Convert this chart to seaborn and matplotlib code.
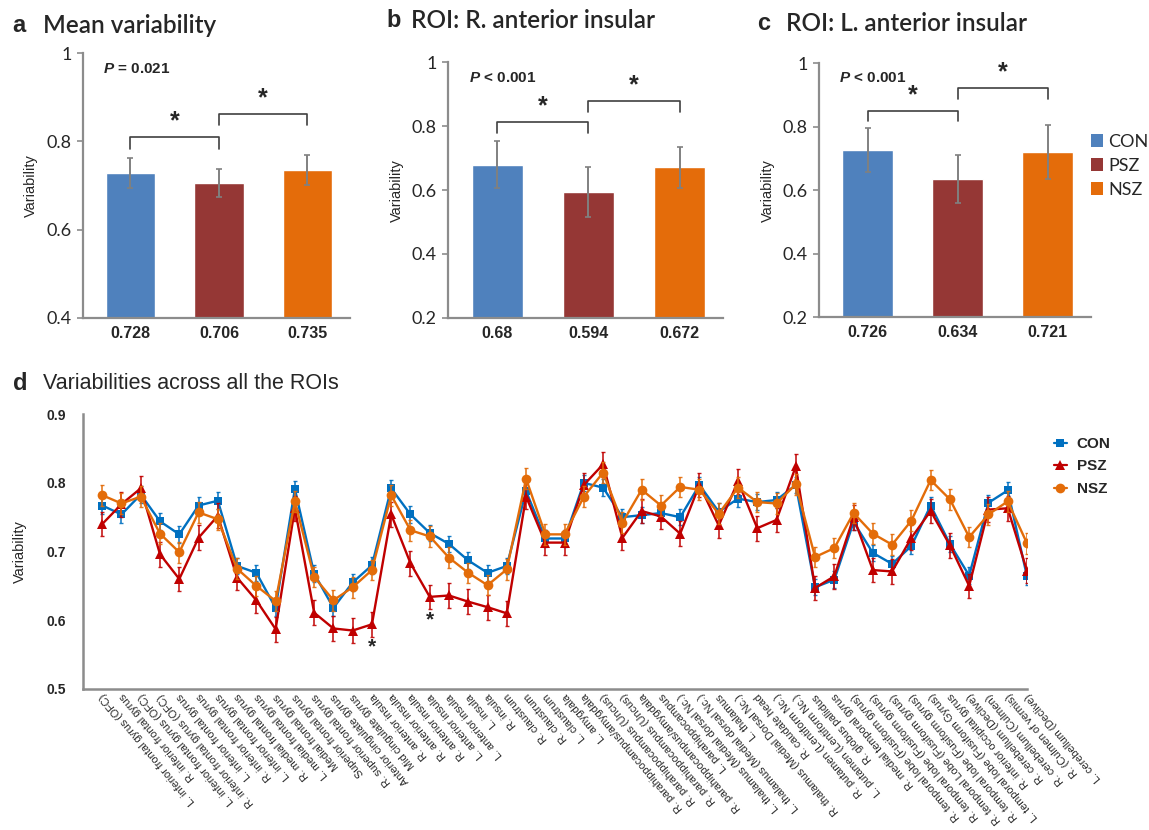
import numpy as np
import pandas as pd
import matplotlib
matplotlib.use("Agg")
import matplotlib.pyplot as plt
from matplotlib.lines import Line2D
from matplotlib.patches import Patch
import seaborn as sns

sns.set_theme(style="white")
plt.rcParams["font.family"] = ["Liberation Sans", "DejaVu Sans"]
plt.rcParams["mathtext.fontset"] = "custom"
plt.rcParams["mathtext.it"] = "Liberation Sans:italic:bold"

groups = ["CON", "PSZ", "NSZ"]
bar_colors = ["#4F81BD", "#953735", "#E46C0A"]
line_colors = ["#0070C0", "#C00000", "#E36C09"]
markers = ["s", "^", "o"]

# panels a-c: group means and error bars
mean_var = [0.728, 0.706, 0.735]
mean_var_err = [0.034, 0.032, 0.033]
r_ins = [0.68, 0.594, 0.672]
r_ins_err = [0.073, 0.078, 0.064]
l_ins = [0.726, 0.634, 0.721]
l_ins_err = [0.068, 0.076, 0.085]

# bracket heights (CON-PSZ, PSZ-NSZ)
brackets_a = [0.809, 0.862]
brackets_b = [0.8125, 0.878]
brackets_c = [0.85, 0.92]

# panel d
roi_labels = [
    "L. inferior frontal gyrus (OFC)", "R. inferior frontal gyrus",
    "L. inferior frontal gyrus (OFC)", "R. inferior frontal gyrus (OFC)",
    "L. inferior frontal gyrus", "R. inferior frontal gyrus",
    "L. inferior frontal gyrus", "R. medial frontal gyrus",
    "L. medial frontal gyrus", "Medial frontal gyrus",
    "Superior frontal gyrus", "R. superior frontal gyrus",
    "Anterior cingulate gyrus", "Mid cingulate gyrus",
    "R. anterior insula", "R. anterior insula", "R. anterior insula",
    "L. anterior insula", "L. anterior insula", "L. insula", "R. insula",
    "R. claustrum", "R. claustrum", "L. claustrum", "L. amygdala",
    "R. parahippocampus/amygdala", "R. parahippocampus (Uncus)",
    "R. parahippocampus (Uncus)", "R. parahippocampus/amygdala",
    "L. parahippocampus", "L. thalamus (Medial dorsal Nc.)",
    "L. thalamus (Medial dorsal Nc.)", "L. thalamus",
    "R. thalamus (Medial Dorsal Nc.)", "R. caudate head",
    "R. putamen (Lentiform Nc.)", "L. putamen (Lentiform Nc.)",
    "R. globus pallidus", "R. medial temporal gyrus",
    "R. temporal lobe (Fusiform gyrus)", "R. temporal lobe (Fusiform gyrus)",
    "R. temporal Lobe (Fusiform gyrus)", "R. temporal lobe (Fusiform gyrus)",
    "L. temporal lobe (Fusiform Gyrus)", "R. inferior occipital gyrus",
    "R. cerebellum (Declive)", "R. cerebellum (Culmen)",
    "R. (Culmen of vermis)", "L. cerebellum (Declive)",
]
con_vals = [0.767, 0.754, 0.783, 0.744, 0.725, 0.767, 0.774, 0.679, 0.669, 0.618,
            0.791, 0.668, 0.618, 0.655, 0.680, 0.792, 0.754, 0.727, 0.711, 0.687,
            0.669, 0.679, 0.788, 0.719, 0.719, 0.800, 0.793, 0.750, 0.753, 0.756,
            0.750, 0.797, 0.758, 0.777, 0.772, 0.775, 0.797, 0.648, 0.659, 0.743,
            0.698, 0.682, 0.708, 0.767, 0.711, 0.665, 0.771, 0.789, 0.664]
psz_vals = [0.740, 0.769, 0.792, 0.696, 0.660, 0.720, 0.752, 0.662, 0.629, 0.587,
            0.763, 0.611, 0.588, 0.585, 0.594, 0.754, 0.683, 0.634, 0.636, 0.627,
            0.619, 0.610, 0.780, 0.713, 0.713, 0.797, 0.827, 0.720, 0.759, 0.751,
            0.726, 0.797, 0.738, 0.802, 0.734, 0.746, 0.824, 0.647, 0.664, 0.750,
            0.673, 0.671, 0.720, 0.759, 0.709, 0.650, 0.761, 0.763, 0.672]
nsz_vals = [0.782, 0.770, 0.780, 0.726, 0.699, 0.757, 0.747, 0.675, 0.650, 0.628,
            0.773, 0.663, 0.629, 0.648, 0.673, 0.782, 0.731, 0.722, 0.691, 0.669,
            0.651, 0.674, 0.806, 0.725, 0.725, 0.780, 0.815, 0.742, 0.790, 0.767,
            0.794, 0.790, 0.755, 0.793, 0.772, 0.770, 0.798, 0.692, 0.705, 0.756,
            0.726, 0.710, 0.745, 0.804, 0.776, 0.721, 0.754, 0.773, 0.712]
series_se = [0.012, 0.018, 0.015]
star_rois = [14, 17]

fig = plt.figure(figsize=(11.49, 8.30), dpi=100)

axis_gray = "#8c8c8c"


def bar_panel(ax, vals, errs, ylim, yticks, ptxt, brk):
    df = pd.DataFrame({"group": groups, "val": vals})
    sns.barplot(data=df, x="group", y="val", hue="group", palette=bar_colors,
                width=0.56, saturation=1, legend=False, ax=ax)
    ax.errorbar(range(3), vals, yerr=errs, fmt="none", ecolor="#808080",
                elinewidth=1.4, capsize=2.5, capthick=1.2)
    ax.set_ylim(*ylim)
    ax.set_xlim(-0.54, 2.48)
    ax.set_yticks(yticks)
    ax.set_yticklabels([f"{t:g}" for t in yticks], family="Lato", fontsize=13)
    ax.set_xticks(range(3))
    ax.set_xticklabels([f"{v:g}" for v in vals], fontweight="bold", fontsize=11.5)
    ax.tick_params(axis="x", length=0, pad=6)
    ax.tick_params(axis="y", length=4, width=1.2, color=axis_gray, direction="out", pad=4, left=True)
    ax.set_xlabel("")
    ax.set_ylabel("Variability", fontsize=10.5, labelpad=6)
    for s in ["top", "right"]:
        ax.spines[s].set_visible(False)
    for s in ["left", "bottom"]:
        ax.spines[s].set_color(axis_gray)
        ax.spines[s].set_linewidth(1.6)
    ax.text(0.075, 0.94, ptxt, transform=ax.transAxes, fontsize=11,
            fontweight="bold", va="center")
    leg = 0.026 if ylim[0] > 0.3 else 0.033
    for i, h in enumerate(brk):
        x0, x1 = i, i + 1
        ax.plot([x0, x0, x1, x1], [h - leg, h, h, h - leg], color="#404040", lw=1.2)
        ax.text(i + 0.5, h + leg * 0.35, "*", ha="center", va="bottom",
                fontsize=18, fontweight="bold")


ax_a = fig.add_axes([0.072, 0.617, 0.2325, 0.319])
bar_panel(ax_a, mean_var, mean_var_err, (0.4, 1.0), [0.4, 0.6, 0.8, 1.0],
          "$\\it{P}$ = 0.021", brackets_a)
ax_b = fig.add_axes([0.390, 0.617, 0.2395, 0.308])
bar_panel(ax_b, r_ins, r_ins_err, (0.2, 1.0), [0.2, 0.4, 0.6, 0.8, 1.0],
          "$\\it{P}$ < 0.001", brackets_b)
ax_c = fig.add_axes([0.7128, 0.618, 0.2365, 0.306])
bar_panel(ax_c, l_ins, l_ins_err, (0.2, 1.0), [0.2, 0.4, 0.6, 0.8, 1.0],
          "$\\it{P}$ < 0.001", brackets_c)

bar_handles = [Patch(facecolor=c, edgecolor="none") for c in bar_colors]
fig.legend(bar_handles, groups, loc="center left", bbox_to_anchor=(0.935, 0.80),
           frameon=False, prop={"family": "Lato", "size": 13},
           handlelength=0.7, handleheight=0.7, handletextpad=0.3, labelspacing=0.45)

titles = [("a", "Mean variability", 0.011, 0.037, 0.969),
          ("b", "ROI: R. anterior insular", 0.336, 0.358, 0.975),
          ("c", "ROI: L. anterior insular", 0.659, 0.684, 0.972)]
for letter, title, lx, tx, ty in titles:
    fig.text(lx, ty, letter, fontsize=17, fontweight="bold", va="center")
    fig.text(tx, ty, title, fontsize=17.5, family="Lato", fontweight="semibold", va="center")

# panel d
ax_d = fig.add_axes([0.0722, 0.170, 0.8216, 0.331])
xs = np.arange(len(roi_labels))
all_vals = [con_vals, psz_vals, nsz_vals]
msizes = [5.5, 7, 7]
for g, vals, col, mk, ms, se in zip(groups, all_vals, line_colors, markers, msizes, series_se):
    ax_d.errorbar(xs, vals, yerr=se, fmt="none", ecolor=col, elinewidth=1.2,
                  capsize=1.5, capthick=1, alpha=0.9)
    sns.lineplot(x=xs, y=vals, color=col, marker=mk, markersize=ms,
                 markeredgewidth=0, linewidth=1.7, ax=ax_d)

for i in star_rois:
    ax_d.text(i, psz_vals[i] - 0.033, "*", ha="center", va="center",
              fontsize=15, fontweight="bold")

ax_d.set_xlim(-1, len(roi_labels) - 1)
ax_d.set_ylim(0.5, 0.9)
ax_d.set_yticks([0.5, 0.6, 0.7, 0.8, 0.9])
ax_d.set_yticklabels(["0.5", "0.6", "0.7", "0.8", "0.9"], fontweight="bold", fontsize=10)
ax_d.set_xticks(xs)
ax_d.set_xticklabels(roi_labels, rotation=130, rotation_mode="anchor",
                     ha="right", va="center", fontsize=7.8)
ax_d.tick_params(axis="x", length=0, pad=4)
ax_d.set_xticks(xs[4::5], minor=True)
ax_d.tick_params(axis="x", which="minor", length=3, color=axis_gray, bottom=True)
ax_d.tick_params(axis="y", length=0, pad=12)
ax_d.set_ylabel("Variability", fontsize=10.5, labelpad=14)
ax_d.set_xlabel("")
for s in ["top", "right"]:
    ax_d.spines[s].set_visible(False)
for s in ["left", "bottom"]:
    ax_d.spines[s].set_color(axis_gray)
    ax_d.spines[s].set_linewidth(1.8)

line_handles = [Line2D([0], [0], color=c, marker=m, markersize=s, lw=1.6, markeredgewidth=0)
                for c, m, s in zip(line_colors, markers, msizes)]
fig.legend(line_handles, groups, loc="center left", bbox_to_anchor=(0.905, 0.438),
           frameon=False, prop={"weight": "bold", "size": 11},
           handlelength=0.9, handletextpad=0.6, labelspacing=0.55)

fig.text(0.011, 0.538, "d", fontsize=17, fontweight="bold", va="center")
fig.text(0.037, 0.538, "Variabilities across all the ROIs", fontsize=15.5, va="center")

fig.savefig("out.png", dpi=100)
